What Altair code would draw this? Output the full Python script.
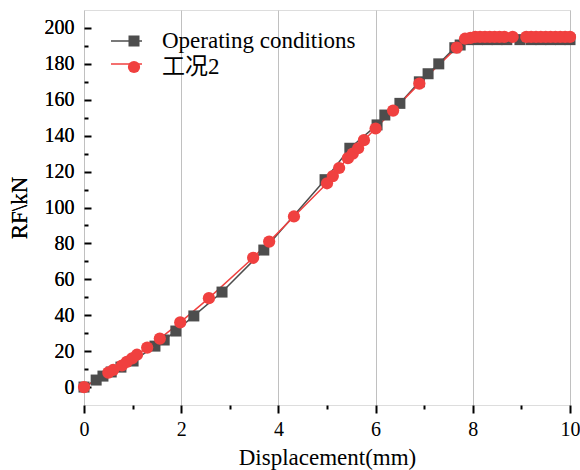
import altair as alt
import pandas as pd

# Series 1: Operating conditions (squares)
x1 = [0, 0.25, 0.39, 0.56, 0.76, 1.01, 1.46, 1.65, 1.89, 2.26, 2.84, 3.70, 4.96, 5.47,
      6.03, 6.19, 6.50, 6.90, 7.08, 7.30, 7.63, 7.74, 7.90, 8.10, 8.30, 8.50, 8.70,
      8.97, 9.20, 9.40, 9.60, 9.80, 10.0]
y1 = [0, 3.9, 6.1, 8.4, 11.1, 14.5, 22.8, 26.2, 31.2, 39.6, 52.9, 76.3, 115.5, 133,
      146, 151.5, 158, 170, 174.5, 180, 189, 190.5, 193.5, 193.5, 193.5, 193.5, 193.5,
      193.5, 193.5, 193.5, 193.5, 193.5, 193.5]

# Series 2: 工况2 (circles)
x2 = [0, 0.50, 0.60, 0.78, 0.88, 0.99, 1.09, 1.30, 1.56, 1.98, 2.57, 3.48, 3.81, 4.32,
      5.00, 5.12, 5.25, 5.43, 5.53, 5.64, 5.76, 6.00, 6.36, 6.90, 7.67, 7.84, 7.95,
      8.05, 8.15, 8.25, 8.35, 8.45, 8.55, 8.65, 8.82, 9.10, 9.20, 9.30, 9.40, 9.50,
      9.60, 9.70, 9.80, 9.90, 10.0]
y2 = [0, 8, 9.5, 12, 14, 16, 18, 22, 27, 36, 49.5, 72, 81, 95,
      113.5, 117.5, 122, 127.5, 130, 133, 137.5, 144, 154, 169, 189, 194, 194.5,
      195, 195, 195, 195, 195, 195, 195, 195, 195, 195, 195, 195, 195,
      195, 195, 195, 195, 195]

series_names = ["Operating conditions", "工况2"]
line_names = [s + " " for s in series_names]  # separate legend for the line symbols
colors = ["#4d4d4d", "#f0403f"]
shapes = ["square", "circle"]

df = pd.concat([
    pd.DataFrame({"x": x1, "y": y1, "series": series_names[0], "order": range(len(x1))}),
    pd.DataFrame({"x": x2, "y": y2, "series": series_names[1], "order": range(len(x2))}),
])
df["line_series"] = df["series"] + " "

x_ticks = list(range(0, 11))
y_labels = list(range(0, 201, 20))
y_minor = list(range(0, 201, 10))

TXT = "Liberation Serif, Noto Sans CJK SC"
NUM = "Liberation Serif"

W, H = 486, 395

xs = alt.Scale(domain=[0, 10], nice=False, zero=False)
ys = alt.Scale(domain=[-10, 210], nice=False, zero=False)

x_enc = alt.X("x:Q", scale=xs, axis=alt.Axis(
    title="Displacement(mm)", values=x_ticks, labelFlush=False,
    labelExpr="datum.value % 2 ? '' : datum.label",
    tickSize={"condition": {"test": "datum.value % 2 !== 0", "value": 4}, "value": 8},
    gridOpacity={"condition": {"test": "datum.value % 2 !== 0", "value": 0}, "value": 1},
    grid=True, gridColor="#c0c0c0", gridWidth=1,
    tickColor="black", tickWidth=2, domain=False,
    labelFont=NUM, labelFontSize=20, labelColor="black", labelPadding=6,
    titleFont=TXT, titleFontSize=23, titleFontWeight="normal", titleColor="black",
    titlePadding=7,
))

y_enc = alt.Y("y:Q", scale=ys, axis=alt.Axis(
    title="RF\\kN", values=y_labels, orient="left", ticks=False, domain=False, grid=False,
    labelFlush=False,
    labelFont=NUM, labelFontSize=20, labelColor="black", labelPadding=10,
    titleFont=TXT, titleFontSize=23, titleFontWeight="normal", titleColor="black",
    titlePadding=13,
))

lines = alt.Chart(df).mark_line(strokeWidth=1.5).encode(
    x=x_enc, y=y_enc, order="order:Q",
    stroke=alt.Stroke("line_series:N", scale=alt.Scale(domain=line_names, range=colors),
                      legend=alt.Legend(title=None, orient="none", legendX=27, legendY=21,
                                        symbolType="M-3.73,0H3.73", symbolSize=121,
                                        symbolStrokeWidth=1.5, symbolOffset=14,
                                        padding=0, rowPadding=3, clipHeight=20,
                                        labelExpr="''", labelFontSize=1)),
)

points = alt.Chart(df).mark_point(filled=True, opacity=1, strokeWidth=0).encode(
    x=x_enc, y=y_enc,
    color=alt.Color("series:N", scale=alt.Scale(domain=series_names, range=colors),
                    legend=alt.Legend(title=None, orient="none", legendX=27, legendY=21,
                                      symbolOffset=11.5, padding=0, rowPadding=3, clipHeight=20,
                                      symbolStrokeWidth=0, symbolOpacity=1,
                                      labelFont=TXT, labelFontSize=23, labelColor="black",
                                      labelOffset=16.5, labelLimit=400)),
    shape=alt.Shape("series:N", scale=alt.Scale(domain=series_names, range=shapes)),
    size=alt.Size("series:N", scale=alt.Scale(domain=series_names, range=[121, 150]),
                  legend=None),
)

inner_ticks = alt.Chart(df).mark_point(opacity=0).encode(
    y=alt.Y("y:Q", scale=ys, axis=alt.Axis(
        title=None, orient="right", offset=-W, values=y_minor, labels=False,
        domain=False, grid=False, tickColor="black", tickWidth=2,
        tickSize={"condition": {"test": "datum.value % 20 !== 0", "value": 4}, "value": 7},
    )),
)

chart = alt.layer(lines, points, inner_ticks).resolve_scale(
    y="independent"
).resolve_axis(y="independent").properties(
    width=W, height=H,
    autosize=alt.AutoSizeParams(type="none"),
    padding={"left": 84, "top": 10, "right": 10, "bottom": 65},
).configure_view(stroke="black", strokeWidth=2).configure(background="white")

chart.save("out.html", embed_options={"renderer": "svg", "actions": False})
